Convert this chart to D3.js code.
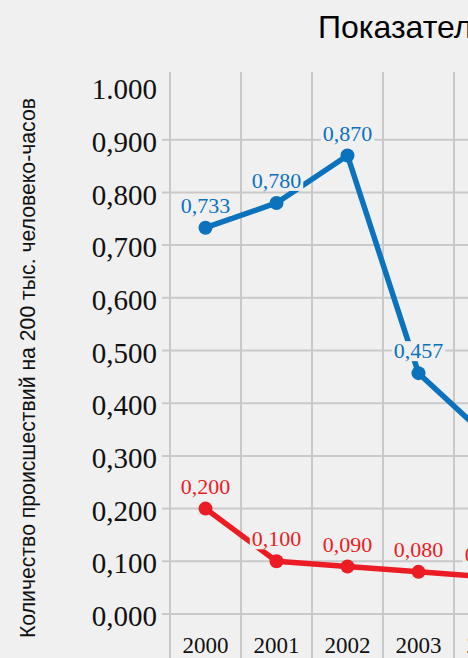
<!DOCTYPE html>
<html>
<head>
<meta charset="utf-8">
<script src="https://cdn.jsdelivr.net/npm/d3@7"></script>
<style>
  html, body { margin: 0; padding: 0; background: #f0f0f0; overflow: hidden; }
  svg { display: block; }
</style>
</head>
<body>
<div id="chart"></div>
<script>
// data
var years = ["2000", "2001", "2002", "2003", "2004"];
var blueValues = [0.733, 0.780, 0.870, 0.457, 0.332];
var redValues = [0.200, 0.100, 0.090, 0.080, 0.070];
var yTicks = [0, 0.1, 0.2, 0.3, 0.4, 0.5, 0.6, 0.7, 0.8, 0.9, 1.0];
var yTickLabels = ["0,000", "0,100", "0,200", "0,300", "0,400", "0,500", "0,600", "0,700", "0,800", "0,900", "1.000"];
var titleText = "Показатели травматизма";
var yTitle = "Количество происшествий на 200 тыс. человеко-часов";

var width = 468, height = 658;
var bg = "#f0f0f0";
var blue = "#0b72bd", red = "#ec1c24", grid = "#c9c9c9";
var serif = "'Liberation Serif', 'Times New Roman', serif";

var svg = d3.select("#chart").append("svg")
    .attr("width", width)
    .attr("height", height);

svg.append("rect").attr("width", width).attr("height", height).attr("fill", bg);

var plotTop = 72, plotLeft = 170;

var x = d3.scaleBand()
    .domain(years)
    .range([plotLeft, plotLeft + 71 * years.length]);

var y = d3.scaleLinear()
    .domain([0, 1])
    .range([614, 87]);

// horizontal grid + tick marks (no line at the top value)
svg.selectAll(".hgrid")
    .data(yTicks.slice(0, -1))
    .enter().append("line")
    .attr("class", "hgrid")
    .attr("x1", plotLeft - 8)
    .attr("x2", width + 400)
    .attr("y1", function(d) { return y(d); })
    .attr("y2", function(d) { return y(d); })
    .attr("stroke", grid)
    .attr("stroke-width", 2);

// vertical grid at band edges
var edges = years.map(function(d) { return x(d); }).concat([x(years[years.length - 1]) + x.bandwidth()]);
svg.selectAll(".vgrid")
    .data(edges)
    .enter().append("line")
    .attr("class", "vgrid")
    .attr("x1", function(d) { return d; })
    .attr("x2", function(d) { return d; })
    .attr("y1", plotTop)
    .attr("y2", height)
    .attr("stroke", grid)
    .attr("stroke-width", 2);

// y tick labels
svg.selectAll(".ytick")
    .data(yTicks)
    .enter().append("text")
    .attr("class", "ytick")
    .attr("x", 157)
    .attr("y", function(d) { return y(d); })
    .attr("dy", "0.42em")
    .attr("text-anchor", "end")
    .attr("font-family", serif)
    .attr("font-size", 29)
    .attr("fill", "#111")
    .text(function(d, i) { return yTickLabels[i]; });

// x labels
svg.selectAll(".xtick")
    .data(years)
    .enter().append("text")
    .attr("class", "xtick")
    .attr("x", function(d) { return x(d) + x.bandwidth() / 2; })
    .attr("y", 653)
    .attr("text-anchor", "middle")
    .attr("font-family", serif)
    .attr("font-size", 23)
    .attr("fill", "#111")
    .text(function(d) { return d; });

// title
svg.append("text")
    .attr("x", 318)
    .attr("y", 38)
    .attr("font-family", "'Liberation Sans', Arial, sans-serif")
    .attr("font-size", 32)
    .attr("fill", "#000")
    .text(titleText);

// y axis title
svg.append("text")
    .attr("transform", "translate(35,368) rotate(-90)")
    .attr("text-anchor", "middle")
    .attr("font-family", "'Liberation Sans', Arial, sans-serif")
    .attr("font-size", 22)
    .attr("textLength", 540)
    .attr("lengthAdjust", "spacingAndGlyphs")
    .attr("fill", "#111")
    .text(yTitle);

var line = d3.line()
    .x(function(d, i) { return x(years[i]) + x.bandwidth() / 2; })
    .y(function(d) { return y(d); });

function drawSeries(values, color) {
    var g = svg.append("g");

    g.append("path")
        .datum(values)
        .attr("d", line)
        .attr("fill", "none")
        .attr("stroke", color)
        .attr("stroke-width", 5.5)
        .attr("stroke-linejoin", "round");

    g.selectAll("circle")
        .data(values)
        .enter().append("circle")
        .attr("cx", function(d, i) { return x(years[i]) + x.bandwidth() / 2; })
        .attr("cy", function(d) { return y(d); })
        .attr("r", 7)
        .attr("fill", color);

    // value labels with a background box so lines stop behind them
    var labels = g.selectAll(".lbl")
        .data(values)
        .enter().append("g")
        .attr("class", "lbl");

    labels.append("text")
        .attr("x", function(d, i) {
            var cx = x(years[i]) + x.bandwidth() / 2;
            // a steep drop into the point: put the label to the right of it
            if (i > 0 && values[i - 1] - d > 0.1 && i === values.length - 1) return cx + 12;
            return cx;
        })
        .attr("y", function(d) { return y(d) - 15; })
        .attr("text-anchor", function(d, i) {
            return (i > 0 && values[i - 1] - d > 0.1 && i === values.length - 1) ? "start" : "middle";
        })
        .attr("font-family", serif)
        .attr("font-size", 22)
        .attr("fill", color)
        .text(function(d) { return d3.format(".3f")(d).replace(".", ","); });

    labels.each(function() {
        var t = d3.select(this).select("text");
        var b = t.node().getBBox();
        d3.select(this).insert("rect", "text")
            .attr("x", b.x - 2)
            .attr("y", b.y + 3)
            .attr("width", b.width + 4)
            .attr("height", b.height - 5)
            .attr("fill", bg);
    });
}

drawSeries(blueValues, blue);
drawSeries(redValues, red);
</script>
</body>
</html>
